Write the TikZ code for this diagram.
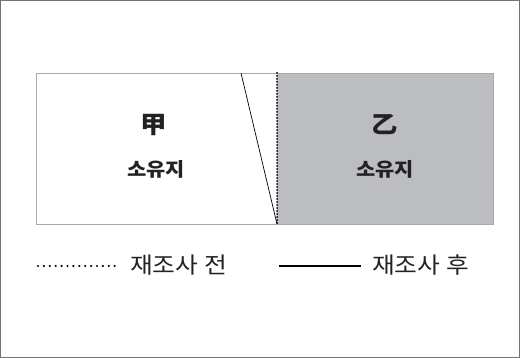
\documentclass[tikz,border=0pt]{standalone}
\usepackage{fontspec}
\newfontfamily\kr{Noto Sans CJK KR}[FakeStretch=1.1]
\definecolor{fillgray}{HTML}{BCBDC0}
\definecolor{edgegray}{HTML}{AAAAAA}
\definecolor{txt}{HTML}{222222}
\begin{document}
\begin{tikzpicture}[x=1pt,y=-1pt,
  frame/.style={draw=edgegray,line width=0.8pt},
  lbl/.style={font=\kr\bfseries\fontsize{19}{22}\selectfont,text=txt,inner sep=0pt},
  han/.style={font=\kr\bfseries\fontsize{24}{28}\selectfont,text=txt,inner sep=0pt},
  leg/.style={font=\kr\fontsize{22.5}{26}\selectfont,text=txt,inner sep=0pt,anchor=west},
  dotline/.style={line width=2pt,line cap=round,dash pattern=on 0pt off 3pt,draw=black},
  solidline/.style={line width=0.8pt,draw=black}]
\useasboundingbox (0,0) rectangle (520,358);
\draw[draw=black!55,line width=0.8pt] (0.5,0.5) rectangle (519.5,357.5);
% regions
\fill[fillgray] (277,73) rectangle (493,224);
\draw[frame] (36,73) rectangle (493,224);
\coordinate (ta) at (241,73);
\coordinate (tb) at (277,73);
\coordinate (ba) at (277,224);
\draw[solidline,line width=0.7pt] (ta) -- (ba);
\draw[dotline] (tb) -- (ba);
% labels
\node[han] (gap) at (154,125) {甲};
\node[lbl] (gaps) at (156,169.5) {소유지};
\node[han] (eul) at (385,125) {乙};
\node[lbl] (euls) at (385,169.5) {소유지};
% legend
\coordinate (d1) at (38,266);
\coordinate (d2) at (120,266);
\draw[line width=2.4pt,line cap=round,dash pattern=on 0pt off 5.9pt,draw=black] (d1) -- (d2);
\node[leg] (before) at (130,265) {재조사 전};
\coordinate (s1) at (279,266);
\coordinate (s2) at (361,266);
\draw[line width=1.4pt] (s1) -- (s2);
\node[leg] (after) at (372,265) {재조사 후};
\end{tikzpicture}
\end{document}
